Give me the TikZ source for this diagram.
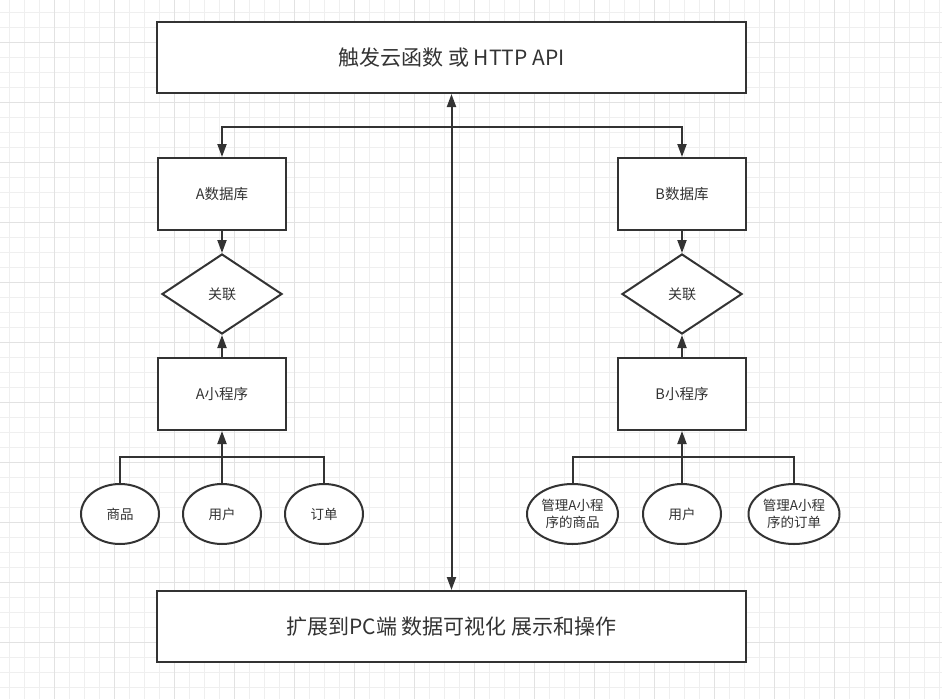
\documentclass[tikz,border=0pt]{standalone}
\usepackage{fontspec}
\setmainfont{Noto Sans CJK SC}
\usetikzlibrary{arrows.meta, shapes.geometric}
\definecolor{flInk}{HTML}{333333}
\definecolor{flGrid}{HTML}{EFEFEF}
\definecolor{flGridMajor}{HTML}{E2E2E2}

\begin{document}
\begin{tikzpicture}[x=1pt, y=-1pt,
    proc/.style={draw=flInk, line width=2pt, fill=white, text=flInk, inner sep=0pt,
      minimum width=128pt, minimum height=72pt, font=\fontsize{14.5}{17}\selectfont},
    wideproc/.style={proc, minimum width=589pt, minimum height=71pt, font=\fontsize{21}{25}\selectfont},
    decide/.style={proc, diamond, minimum width=120pt, minimum height=80pt, font=\fontsize{14}{17}\selectfont},
    leaf/.style={proc, ellipse, minimum width=78pt, minimum height=60pt, align=center,
      font=\fontsize{13.5}{17}\selectfont},
    link/.style={draw=flInk, line width=2pt},
    flow/.style={-{Triangle[length=13pt, width=9pt]}},
    flowboth/.style={{Triangle[length=13pt, width=9pt]}-{Triangle[length=13pt, width=9pt]}}]
  \useasboundingbox (0,0) rectangle (942,699);
  \fill[white] (0,0) rectangle (942,699);
  % grid
  \foreach \k in {0,...,62} \draw[flGrid, line width=1pt] (9.5+15*\k, 0) -- ++(0,699);
  \foreach \k in {0,...,45} \draw[flGrid, line width=1pt] (0, 12.5+15*\k) -- ++(942,0);
  \foreach \k in {0,...,14} \draw[flGridMajor, line width=1pt] (54.5+60*\k, 0) -- ++(0,699);
  \foreach \k in {0,...,10} \draw[flGridMajor, line width=1pt] (0, 42.5+60*\k) -- ++(942,0);

  \node[wideproc] (trigger) at (451.5, 57.5) {触发云函数 或 HTTP API};
  \node[wideproc] (pcview) at (451.5, 626.5) {扩展到PC端 数据可视化 展示和操作};

  \foreach \s/\x/\l in {a/222/A, b/682/B} {
    \node[proc] (\s db) at (\x, 194) {\l 数据库};
    \node[decide] (\s rel) at (\x, 294) {关联};
    \node[proc] (\s app) at (\x, 394) {\l 小程序};
    \draw[link, flow] (\s db) -- (\s rel);
    \draw[link, flow] (\s app) -- (\s rel);
  }
  \node[leaf] (agoods) at (120, 514) {商品};
  \node[leaf] (auser) at (222, 514) {用户};
  \node[leaf] (aorder) at (324, 514) {订单};
  \node[leaf, minimum width=91pt] (bgoods) at (572.5, 514) {管理A小程\\序的商品};
  \node[leaf] (buser) at (682, 514) {用户};
  \node[leaf, minimum width=91pt] (border) at (794, 514) {管理A小程\\序的订单};

  \foreach \s in {a, b} {
    \draw[link] (\s goods.north) -- ++(0,-26) -| (\s order.north);
    \draw[link, flow] (\s user) -- (\s app);
  }
  \draw[link, flowboth] (adb.north) -- ++(0,-30) -| (bdb.north);
  \draw[link, flowboth] (trigger.south) -- (pcview.north);
\end{tikzpicture}
\end{document}
